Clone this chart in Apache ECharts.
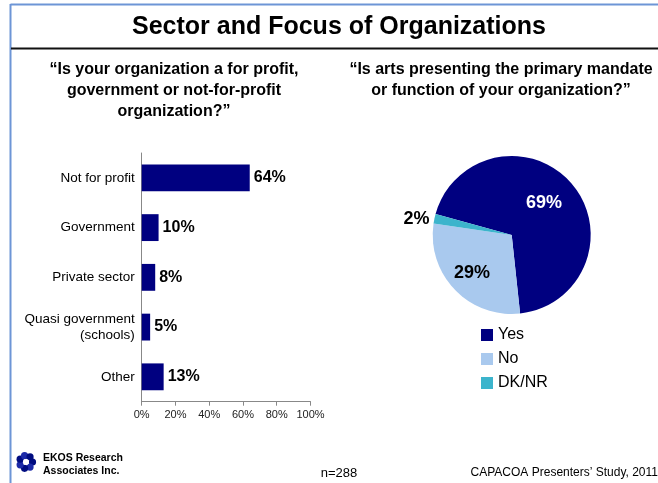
<!DOCTYPE html>
<html>
<head>
<meta charset="utf-8">
<script src="https://cdn.jsdelivr.net/npm/echarts@6/dist/echarts.min.js"></script>
<style>
  html, body { margin: 0; padding: 0; background: #fff; }
  #chart { width: 658px; height: 483px; }
</style>
</head>
<body>
<div id="chart"></div>
<script>
var sectors = ['Not for profit', 'Government', 'Private sector', 'Quasi government\n(schools)', 'Other'];
var sectorValues = [64, 10, 8, 5, 13];
var xTicks = [0, 20, 40, 60, 80, 100];

var mandateNames = ['Yes', 'No', 'DK/NR'];
var mandateValues = [69, 29, 2];

var arial = '"Liberation Sans", Arial, sans-serif';

var pieColors = ['#000080', '#a9c9ee', '#3cb4cc'];
// label styling per slice
var pieLabels = [
    { position: 'inside', color: '#fff', offset: [0, -4] },
    { position: 'inside', color: '#000', offset: [-9, 9] },
    { position: 'outside', color: '#000' }
];

var pieData = mandateNames.map(function (n, i) {
    return {
        name: n,
        value: mandateValues[i],
        itemStyle: { color: pieColors[i] },
        label: pieLabels[i]
    };
});

// small swirl logo made of circles
var logo = [];
for (var i = 0; i < 7; i++) {
    var a = i / 7 * Math.PI * 2;
    logo.push({
        type: 'circle',
        shape: { cx: 26 + Math.cos(a) * 6.5, cy: 462 + Math.sin(a) * 6.5, r: 3.6 },
        style: { fill: i % 2 ? '#1c2aa8' : '#000c80' }
    });
}
logo.push({ type: 'circle', shape: { cx: 26, cy: 462, r: 3 }, style: { fill: '#fff' } });

var chart = echarts.init(document.getElementById('chart'));
var option = {
    animation: false,
    textStyle: { fontFamily: arial },
    graphic: [
        { type: 'line', shape: { x1: 10.5, y1: 4.5, x2: 658, y2: 4.5 }, style: { stroke: '#6d95d6', lineWidth: 2 } },
        { type: 'line', shape: { x1: 10.5, y1: 4, x2: 10.5, y2: 483 }, style: { stroke: '#6d95d6', lineWidth: 2 } },
        { type: 'line', shape: { x1: 11, y1: 48.5, x2: 658, y2: 48.5 }, style: { stroke: '#111', lineWidth: 2 } },
        { type: 'text', x: 339, y: 27, style: { text: 'Sector and Focus of Organizations', font: 'bold 25px ' + arial, fill: '#000', textAlign: 'center', textVerticalAlign: 'middle' } },
        { type: 'text', x: 174, y: 59, style: { text: '\u201cIs your organization a for profit,\ngovernment or not-for-profit\norganization?\u201d', font: 'bold 16px ' + arial, lineHeight: 21, fill: '#000', textAlign: 'center' } },
        { type: 'text', x: 501, y: 59, style: { text: '\u201cIs arts presenting the primary mandate\nor function of your organization?\u201d', font: 'bold 16px ' + arial, lineHeight: 21, fill: '#000', textAlign: 'center' } },
        { type: 'group', children: logo },
        { type: 'text', x: 43, y: 452, style: { text: 'EKOS Research\nAssociates Inc.', font: 'bold 10.5px ' + arial, lineHeight: 13, fill: '#000' } },
        { type: 'text', x: 339, y: 473, style: { text: 'n=288', font: '13px ' + arial, fill: '#000', textAlign: 'center', textVerticalAlign: 'middle' } },
        { type: 'text', x: 658, y: 473, style: { text: 'CAPACOA Presenters\u2019 Study, 2011', font: '12px ' + arial, fill: '#000', textAlign: 'right', textVerticalAlign: 'middle' } }
    ],
    grid: { left: 141.7, top: 153, width: 168.8, height: 248.7 },
    xAxis: {
        type: 'value',
        min: xTicks[0],
        max: xTicks[xTicks.length - 1],
        interval: xTicks[1] - xTicks[0],
        axisLine: { show: true, lineStyle: { color: '#888' } },
        axisTick: { show: true, length: 4, lineStyle: { color: '#888' } },
        splitLine: { show: false },
        axisLabel: { formatter: '{value}%', fontSize: 11, color: '#222', margin: 8 }
    },
    yAxis: {
        type: 'category',
        inverse: true,
        data: sectors,
        axisLine: { show: true, lineStyle: { color: '#888' } },
        axisTick: { show: false },
        axisLabel: { fontSize: 13.5, color: '#000', margin: 7, lineHeight: 16, align: 'right' }
    },
    legend: {
        orient: 'vertical',
        left: 481,
        top: 327,
        padding: 0,
        icon: 'rect',
        itemWidth: 12,
        itemHeight: 12,
        itemGap: 8,
        data: mandateNames,
        textStyle: { fontSize: 16, color: '#000', lineHeight: 16 }
    },
    series: [
        {
            type: 'bar',
            data: sectorValues,
            barWidth: '54%',
            itemStyle: { color: '#000080' },
            label: { show: true, position: 'right', distance: 4, formatter: '{c}%', fontSize: 16, fontWeight: 'bold', color: '#000' }
        },
        {
            type: 'pie',
            center: [511.7, 235],
            radius: 79,
            startAngle: 164.5,
            clockwise: true,
            data: pieData,
            label: { formatter: '{c}%', fontSize: 18, fontWeight: 'bold' },
            labelLine: { show: false, length: 0, length2: 0 }
        }
    ]
};
chart.setOption(option);
</script>
</body>
</html>
